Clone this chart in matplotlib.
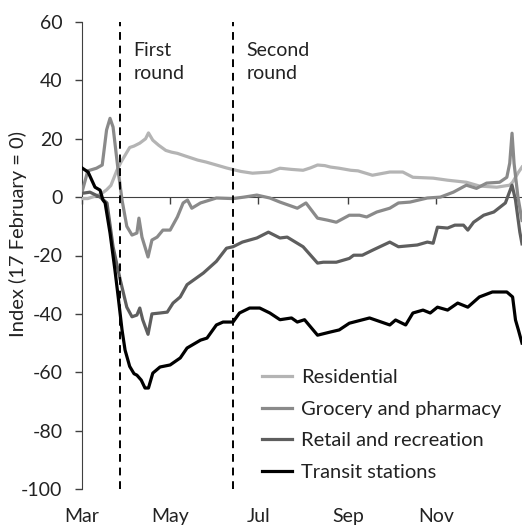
import matplotlib
matplotlib.use("Agg")
import matplotlib.pyplot as plt

plt.rcParams['font.family'] = ['Lato', 'DejaVu Sans']

# x values: days since 1 March
res_x = [0, 4, 10, 13, 17, 20, 24, 27, 30, 33, 36, 40, 44, 46, 49, 53, 58, 62, 66, 72, 80, 86, 93, 100, 104,
         110, 118, 124, 130, 137, 145, 153, 158, 163, 168, 172, 178, 186, 191, 201, 213, 222, 229, 243, 253,
         266, 275, 287, 296, 298, 302, 304.5]
res_y = [-0.5, -0.5, 0.5, 1, 2.5, 4, 9, 12, 14.5, 17, 17.5, 18.5, 20, 22, 19.5, 17.8, 16, 15.4, 15, 14, 12.7,
         12, 11, 10, 9.5, 8.8, 8.2, 8.4, 8.6, 9.9, 9.5, 9.2, 10, 11, 10.8, 10.3, 9.9, 9.2, 9, 7.5, 8.6, 8.6,
         6.8, 6.5, 5.8, 5.1, 3.8, 3.4, 4.1, 5.1, 8.5, 10.3]

gro_x = [0, 4, 10, 14, 17, 19.4, 21.5, 25, 27.7, 31, 34.6, 38, 39.4, 41.5, 45.7, 48.4, 52, 56, 61, 66, 70, 73,
         76, 82, 93, 104.5, 112, 121, 130, 137, 149, 155, 163, 170, 176, 185, 192, 197, 204, 213, 219, 227,
         239, 248, 257, 266, 273, 280, 289, 294, 296, 297.6, 299, 301.7, 304.5]
gro_y = [1.7, 9, 9.9, 11, 23, 27, 24, 9.2, -1, -10, -13, -12.3, -7.2, -13.7, -20.5, -14.7, -13.7, -11.3, -11.3,
         -6.8, -2, -1, -3.8, -2, -0.3, -0.5, 0, 0.7, -0.3, -1.7, -3.8, -2, -7.2, -7.9, -8.6, -6.2, -6.2, -6.8,
         -5.1, -3.8, -2, -1.7, -0.3, 0, 1.7, 4.1, 3, 4.8, 5.1, 6.8, 11.6, 21.9, 11.6, 0, -8]

ret_x = [0, 5.5, 12.5, 17.3, 21.5, 26.3, 31, 34.6, 38, 40, 42, 45.7, 48.4, 54, 59, 63, 68, 72.7, 84, 93, 100,
         104.5, 111, 121, 129, 137, 142, 153, 163, 167, 176, 185, 188, 194, 201, 213, 219, 232, 239, 243, 246,
         253, 258, 264, 267, 271, 278, 285, 293, 297.6, 300, 303, 304.5]
ret_y = [1.3, 1.7, 0, -2, -17, -28, -37.7, -41, -40.4, -38, -42, -47, -40, -39.7, -39.4, -36.3, -34.2, -30, -26,
         -22, -17.5, -17, -15.4, -14, -12, -14, -13.7, -17, -22.6, -22.3, -22.3, -21, -19.9, -19.9, -18.2,
         -15.4, -17, -16.4, -15.4, -15.8, -10.3, -10.6, -9.6, -9.6, -11.3, -8.6, -6.2, -5.1, -2, 4.1, -1,
         -12, -16]

tra_x = [0, 4.2, 9, 12.5, 14.5, 16, 19.4, 22.8, 25, 27.7, 29.8, 33, 36, 38, 41, 43.6, 46, 49, 54, 61, 68, 72.7,
         82, 86.5, 93, 97.6, 104.5, 109, 116, 123, 130, 137, 145, 149, 154, 163, 172, 178, 185, 199, 213, 217,
         224, 229, 236, 241, 246, 253, 260, 267, 275, 284, 294, 298, 300, 302, 304.5]
tra_y = [10, 8.6, 3.4, 2.4, -1, -2, -12.3, -25, -34, -45.5, -52.4, -58, -60.5, -61, -62.7, -65.4, -65.4, -60.3,
         -58.2, -57.5, -55.1, -51.7, -49, -48.3, -43.8, -42.8, -42.8, -39.7, -38, -38, -39.7, -42, -41.4,
         -42.8, -42, -47.3, -46.2, -45.5, -43.2, -41.4, -43.8, -42.1, -43.8, -39.7, -38.7, -39.7, -37.7,
         -38.7, -36.3, -37.7, -34.2, -32.5, -32.5, -34.2, -42.1, -45.5, -50]

round_days = [26.3, 104.5]
round_labels = ["First\nround", "Second\nround"]

month_ticks = [0, 61, 122, 184, 245]
month_labels = ["Mar", "May", "Jul", "Sep", "Nov"]
y_ticks = [60, 40, 20, 0, -20, -40, -60, -80, -100]

FS = 14

fig = plt.figure(figsize=(5.22, 5.29), dpi=100)
ax = fig.add_axes([82/522, 40/529, 440/522, 467/529])

lw = 2.3
ax.plot(res_x, res_y, color='#b4b4b4', lw=lw, label='Residential', zorder=3)
ax.plot(gro_x, gro_y, color='#8a8a8a', lw=lw, label='Grocery and pharmacy', zorder=4)
ax.plot(ret_x, ret_y, color='#5e5e5e', lw=lw, label='Retail and recreation', zorder=5)
ax.plot(tra_x, tra_y, color='#000000', lw=lw, label='Transit stations', zorder=6)

for d, t in zip(round_days, round_labels):
    ax.axvline(d, color='black', lw=1.4, ls=(0, (4, 3)), zorder=7)
    ax.text(d + 9.3, 53.2, t, fontsize=FS, va='top', ha='left', color='#222222', linespacing=1.45)

ax.set_xlim(0, 304.5)
ax.set_ylim(-100, 60)
ax.set_yticks(y_ticks)
ax.set_yticklabels([str(v) for v in y_ticks])
ax.tick_params(axis='y', direction='out', length=5, width=1, color='#404040', labelsize=FS,
               labelcolor='#222222', pad=9)

ax.spines['top'].set_visible(False)
ax.spines['right'].set_visible(False)
ax.spines['left'].set_color('#404040')
ax.spines['bottom'].set_position(('data', 0))
ax.spines['bottom'].set_color('#404040')
ax.spines['bottom'].set_zorder(2)
ax.set_xticks(month_ticks)
ax.tick_params(axis='x', direction='out', length=5, width=1, color='#404040', labelbottom=False)

sec = ax.secondary_xaxis(0)
sec.set_xticks(month_ticks)
sec.set_xticklabels(month_labels)
sec.tick_params(axis='x', length=0, labelsize=FS, labelcolor='#222222', pad=14)
sec.spines['bottom'].set_visible(False)

ax.set_ylabel('Index (17 February = 0)', fontsize=14.5, color='#222222')
ax.yaxis.set_label_coords((27 - 82) / 440, (489 - 234) / 467)

leg = ax.legend(loc='upper left', bbox_to_anchor=((262 - 82) / 440, (529 - 369 - 40) / 467),
                frameon=False, fontsize=14.5, handlelength=1.5, handletextpad=0.45, labelspacing=0.72,
                borderaxespad=0, borderpad=0)
for t in leg.get_texts():
    t.set_color('#222222')

fig.savefig('out.png', dpi=100)
